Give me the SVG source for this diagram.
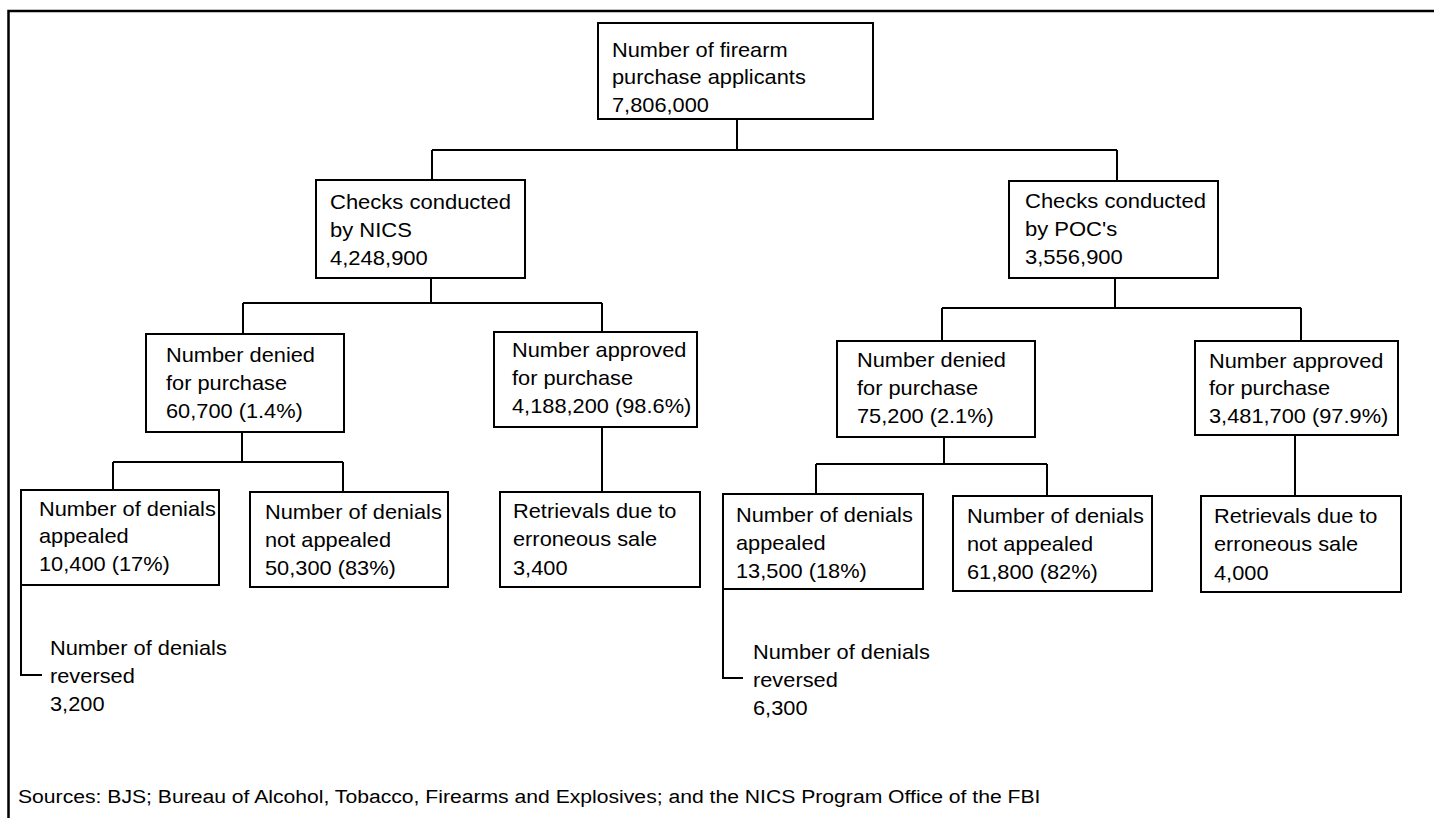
<svg xmlns="http://www.w3.org/2000/svg" width="1434" height="818" viewBox="0 0 1434 818">
<style>
.box{fill:#fff;stroke:#000;stroke-width:2}
.ln{fill:none;stroke:#000;stroke-width:2}
.frame{fill:none;stroke:#000;stroke-width:2.5}
.t{font-family:"Liberation Sans",Arial,Helvetica,sans-serif;font-size:20px;fill:#000}
.src{font-family:"Liberation Sans",Arial,Helvetica,sans-serif;font-size:18px;fill:#000}
</style>
<rect width="1434" height="818" fill="#fff"/>
<path class="frame" d="M1440,11 H8.5 V822"/>
<g id="connectors">
<path class="ln" d="M737,119 V150 M432,150 H1117 M432,150 V180 M1117,150 V181"/>
<path class="ln" d="M431,278 V303 M243,303 H602 M243,303 V334 M602,303 V332"/>
<path class="ln" d="M1115,278 V308 M942,308 H1301 M942,308 V341 M1301,308 V341"/>
<path class="ln" d="M242,432 V462 M113,462 H343 M113,462 V490 M343,462 V492"/>
<path class="ln" d="M602,427 V492"/>
<path class="ln" d="M944,437 V464 M816,464 H1047 M816,464 V494 M1047,464 V496"/>
<path class="ln" d="M1295,435 V496"/>
<path class="ln" d="M21,585 V675 H42"/>
<path class="ln" d="M723,589 V678 H743"/>
</g>
<g id="root">
<rect class="box" x="598" y="23" width="275" height="96"/>
<text class="t" transform="translate(612,57) scale(1.09,1)"><tspan x="0" y="0">Number of firearm</tspan><tspan x="0" y="27.5">purchase applicants</tspan><tspan x="0" y="55">7,806,000</tspan></text>
</g>
<g id="nics">
<rect class="box" x="316" y="180" width="209" height="98"/>
<text class="t" transform="translate(330,209) scale(1.1,1)"><tspan x="0" y="0">Checks conducted</tspan><tspan x="0" y="28">by NICS</tspan><tspan x="0" y="56">4,248,900</tspan></text>
</g>
<g id="poc">
<rect class="box" x="1009" y="181" width="209" height="97"/>
<text class="t" transform="translate(1025,208) scale(1.1,1)"><tspan x="0" y="0">Checks conducted</tspan><tspan x="0" y="28">by POC's</tspan><tspan x="0" y="56">3,556,900</tspan></text>
</g>
<g id="nics-denied">
<rect class="box" x="146" y="334" width="198" height="98"/>
<text class="t" transform="translate(166,362) scale(1.09,1)"><tspan x="0" y="0">Number denied</tspan><tspan x="0" y="28">for purchase</tspan><tspan x="0" y="56">60,700 (1.4%)</tspan></text>
</g>
<g id="nics-approved">
<rect class="box" x="494" y="332" width="203" height="95"/>
<text class="t" transform="translate(512,357) scale(1.09,1)"><tspan x="0" y="0">Number approved</tspan><tspan x="0" y="28">for purchase</tspan><tspan x="0" y="56">4,188,200 (98.6%)</tspan></text>
</g>
<g id="poc-denied">
<rect class="box" x="837" y="341" width="198" height="96"/>
<text class="t" transform="translate(857,367) scale(1.09,1)"><tspan x="0" y="0">Number denied</tspan><tspan x="0" y="28">for purchase</tspan><tspan x="0" y="56">75,200 (2.1%)</tspan></text>
</g>
<g id="poc-approved">
<rect class="box" x="1195" y="341" width="203" height="94"/>
<text class="t" transform="translate(1209,368) scale(1.09,1)"><tspan x="0" y="0">Number approved</tspan><tspan x="0" y="27.5">for purchase</tspan><tspan x="0" y="55">3,481,700 (97.9%)</tspan></text>
</g>
<g id="nics-appealed">
<rect class="box" x="21" y="490" width="198" height="95"/>
<text class="t" transform="translate(39,516) scale(1.09,1)"><tspan x="0" y="0">Number of denials</tspan><tspan x="0" y="27.5">appealed</tspan><tspan x="0" y="55">10,400 (17%)</tspan></text>
</g>
<g id="nics-not-appealed">
<rect class="box" x="250" y="492" width="198" height="95"/>
<text class="t" transform="translate(265,519) scale(1.09,1)"><tspan x="0" y="0">Number of denials</tspan><tspan x="0" y="28">not appealed</tspan><tspan x="0" y="56">50,300 (83%)</tspan></text>
</g>
<g id="nics-retrievals">
<rect class="box" x="500" y="492" width="200" height="95"/>
<text class="t" transform="translate(513,518) scale(1.09,1)"><tspan x="0" y="0">Retrievals due to</tspan><tspan x="0" y="28.5">erroneous sale</tspan><tspan x="0" y="57">3,400</tspan></text>
</g>
<g id="nics-reversed">
<text class="t" transform="translate(50,655) scale(1.09,1)"><tspan x="0" y="0">Number of denials</tspan><tspan x="0" y="28">reversed</tspan><tspan x="0" y="56">3,200</tspan></text>
</g>
<g id="poc-appealed">
<rect class="box" x="723" y="494" width="200" height="95"/>
<text class="t" transform="translate(736,522) scale(1.09,1)"><tspan x="0" y="0">Number of denials</tspan><tspan x="0" y="28">appealed</tspan><tspan x="0" y="56">13,500 (18%)</tspan></text>
</g>
<g id="poc-not-appealed">
<rect class="box" x="953" y="496" width="199" height="95"/>
<text class="t" transform="translate(967,523) scale(1.09,1)"><tspan x="0" y="0">Number of denials</tspan><tspan x="0" y="28">not appealed</tspan><tspan x="0" y="56">61,800 (82%)</tspan></text>
</g>
<g id="poc-retrievals">
<rect class="box" x="1201" y="496" width="200" height="96"/>
<text class="t" transform="translate(1214,523) scale(1.09,1)"><tspan x="0" y="0">Retrievals due to</tspan><tspan x="0" y="28.5">erroneous sale</tspan><tspan x="0" y="57">4,000</tspan></text>
</g>
<g id="poc-reversed">
<text class="t" transform="translate(753,659) scale(1.09,1)"><tspan x="0" y="0">Number of denials</tspan><tspan x="0" y="28">reversed</tspan><tspan x="0" y="56">6,300</tspan></text>
</g>
<text class="src" transform="translate(18,803) scale(1.175,1)">Sources: BJS; Bureau of Alcohol, Tobacco, Firearms and Explosives; and the NICS Program Office of the FBI</text>
</svg>
